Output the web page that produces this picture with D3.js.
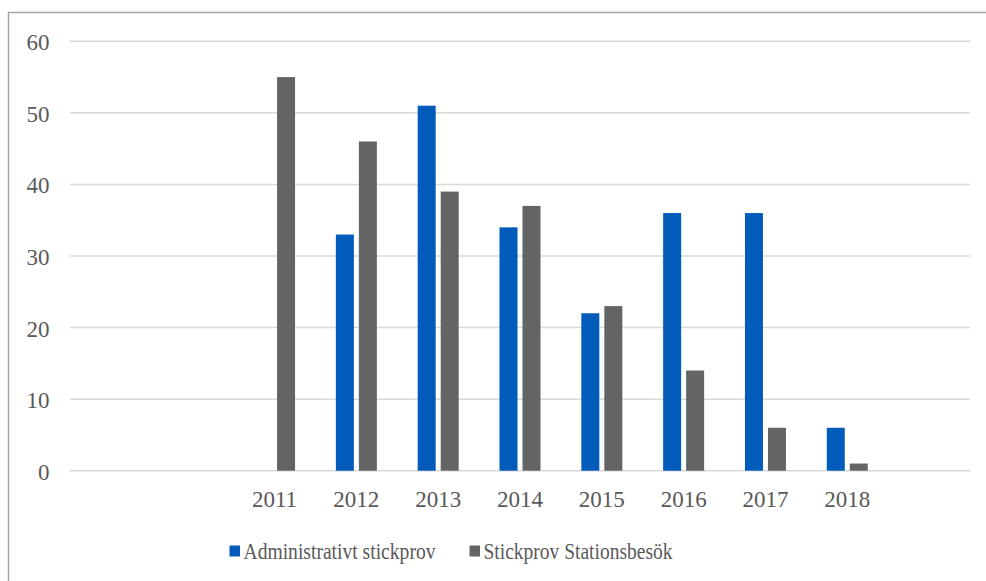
<!DOCTYPE html>
<html>
<head>
<meta charset="utf-8">
<script src="https://cdn.jsdelivr.net/npm/d3@7"></script>
<style>
  html, body { margin: 0; padding: 0; background: #fff; }
  svg { display: block; }
</style>
</head>
<body>
<svg id="chart" width="986" height="581"></svg>
<script>
// Category slots along the x axis (blank slots keep the years positioned as in the sheet)
const categories = ["", " ", "2011", "2012", "2013", "2014", "2015", "2016", "2017", "2018", "  "];
const seriesNames = ["Administrativt stickprov", "Stickprov Stationsbesök"];
const administrativt = [null, null, null, 33, 51, 34, 22, 36, 36, 6, null];
const stationsbesok = [null, null, 55, 46, 39, 37, 23, 14, 6, 1, null];
const yTicks = [0, 10, 20, 30, 40, 50, 60];
const colors = ["#005bbb", "#636466"];

const svg = d3.select("#chart");
const font = "Liberation Serif";
const textColor = "#595959";

// Outer chart frame
svg.append("rect")
  .attr("x", 8.5).attr("y", 12.5)
  .attr("width", 1000).attr("height", 600)
  .attr("fill", "none").attr("stroke", "#a6a6a6").attr("stroke-width", 1.5);

const plot = { left: 70, right: 970, top: 41.3, bottom: 470.7 };

const x = d3.scaleBand().domain(categories).range([plot.left, plot.right]).padding(0);
const y = d3.scaleLinear().domain([0, 60]).range([plot.bottom, plot.top]);

// Gridlines
svg.append("g").selectAll("line").data(yTicks).join("line")
  .attr("x1", plot.left).attr("x2", plot.right)
  .attr("y1", d => y(d)).attr("y2", d => y(d))
  .attr("stroke", "#d9d9d9").attr("stroke-width", 1.5);

// Y axis labels
const yAxis = d3.axisLeft(y).tickValues(yTicks).tickSize(0).tickPadding(0);
const gy = svg.append("g").attr("transform", "translate(49.5,0)").call(yAxis);
gy.attr("font-family", font).attr("font-size", 23);
gy.select(".domain").remove();
gy.selectAll("text")
  .style("font-family", font).style("font-size", "23px").attr("fill", textColor)
  .attr("dy", "0.37em");

// X axis labels
const xAxis = d3.axisBottom(x).tickSize(0).tickPadding(0);
const gx = svg.append("g").attr("transform", `translate(0,${plot.bottom})`).call(xAxis);
gx.attr("font-family", font).attr("font-size", 23);
gx.select(".domain").remove();
gx.selectAll("text")
  .style("font-family", font).style("font-size", "23px").attr("fill", textColor)
  .attr("y", 36).attr("dy", 0);

// Bars: two series side by side in each category slot
const barW = 18, barGap = 5;
const inner = d3.scaleOrdinal().domain([0, 1]).range([-(barGap / 2) - barW, barGap / 2]);
const seriesData = [administrativt, stationsbesok];

seriesData.forEach((vals, si) => {
  svg.append("g").selectAll("rect")
    .data(categories.map((c, i) => ({ c, v: vals[i] })).filter(d => d.v != null))
    .join("rect")
    .attr("x", d => x(d.c) + x.bandwidth() / 2 + inner(si))
    .attr("width", barW)
    .attr("y", d => y(d.v))
    .attr("height", d => y(0) - y(d.v))
    .attr("fill", colors[si]);
});

// Legend
const legendItems = [
  { name: seriesNames[0], color: colors[0], x: 229.5, w: 192 },
  { name: seriesNames[1], color: colors[1], x: 469.5, w: 189 }
];
const lg = svg.append("g");
legendItems.forEach(it => {
  lg.append("rect").attr("x", it.x).attr("y", 545.5).attr("width", 10.5).attr("height", 11).attr("fill", it.color);
  lg.append("text").attr("x", it.x + 14).attr("y", 559)
    .style("font-family", font).style("font-size", "23px").attr("fill", textColor)
    .attr("textLength", it.w).attr("lengthAdjust", "spacingAndGlyphs")
    .text(it.name);
});
</script>
</body>
</html>
